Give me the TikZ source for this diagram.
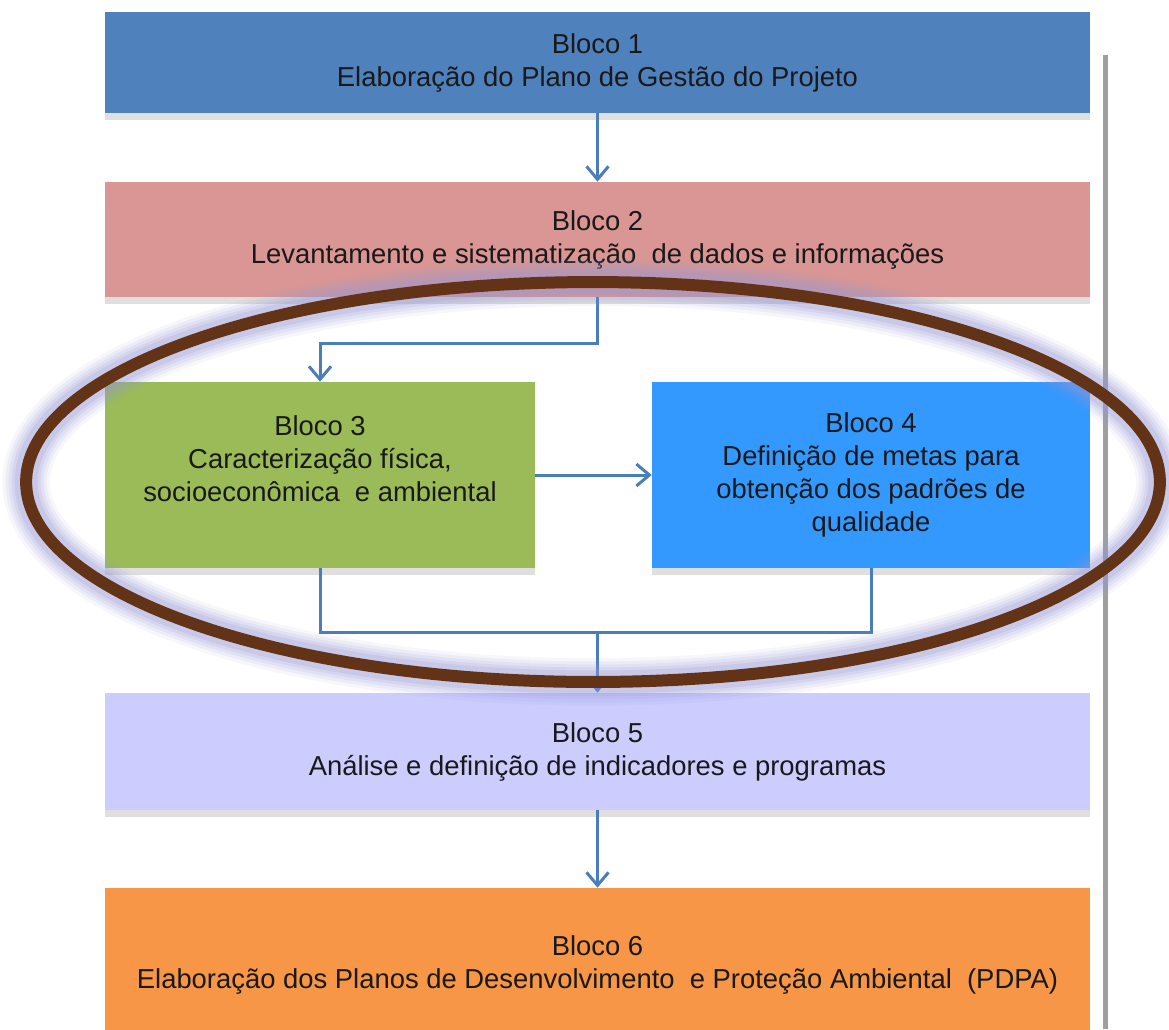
\documentclass[tikz,border=0pt]{standalone}
\usepackage{fontspec}
\setmainfont{Liberation Sans}
\usetikzlibrary{arrows.meta,shadows}
\definecolor{blocoone}{RGB}{79,129,189}
\definecolor{blocotwo}{RGB}{217,150,148}
\definecolor{blocothree}{RGB}{155,187,89}
\definecolor{blocofour}{RGB}{51,153,255}
\definecolor{blocofive}{RGB}{204,204,255}
\definecolor{blocosix}{RGB}{247,150,70}
\definecolor{flowblue}{RGB}{74,126,187}
\definecolor{ringbrown}{RGB}{99,51,23}
\definecolor{ringglow}{RGB}{150,150,215}

\begin{document}
\begin{tikzpicture}[x=0.02cm, y=-0.02cm,
    box/.style={rectangle, minimum width=19.7cm, align=center, inner sep=0pt,
        text=black!90, font=\fontsize{15.6}{18.8}\selectfont,
        drop shadow={shadow xshift=0cm, shadow yshift=-0.14cm, opacity=0.25}},
    halfbox/.style={box, minimum height=3.72cm},
    flow/.style={line width=0.06cm, draw=flowblue},
    arr/.style={flow, -{Straight Barb[length=0.26cm, width=0.44cm]}}]
    % Page
    \fill[white] (0,0) rectangle (1169,1029);
    \useasboundingbox (0,0) rectangle (1169,1029);

    % Frame line on the right
    \draw[line width=0.1cm, gray!75] (1105,55) -- (1105,1029);

    % Blocks
    \node[box, fill=blocoone, minimum height=2.02cm] (b1) at (597.5,62.5)
        {Bloco 1\\Elaboração do Plano de Gestão do Projeto};
    \node[box, fill=blocotwo, minimum height=2.3cm] (b2) at (597.5,239.5)
        {Bloco 2\\Levantamento e sistematização \ de dados e informações};
    \node[halfbox, fill=blocothree, minimum width=8.6cm] (b3) at (320,475)
        {Bloco 3\\Caracterização física,\\socioeconômica \ e ambiental\\\mbox{}};
    \node[halfbox, fill=blocofour, minimum width=8.76cm] (b4) at (871,475)
        {Bloco 4\\Definição de metas para\\obtenção dos padrões de\\qualidade};
    \node[box, fill=blocofive, minimum height=2.34cm] (b5) at (597.5,751.5)
        {Bloco 5\\Análise e definição de indicadores e programas};
    \node[box, fill=blocosix, minimum height=3.08cm] (b6) at (597.5,965)
        {Bloco 6\\Elaboração dos Planos de Desenvolvimento \ e Proteção Ambiental \ (PDPA)};

    % Connectors
    \coordinate (split) at (597.5,343);
    \coordinate (join) at (597.5,632);
    \draw[arr] (b1.south) -- (b2.north);
    \draw[arr] (b2.south) -- (split) -| (b3.north);
    \draw[arr] (b3.east) -- (b4.west);
    \draw[flow] (b3.south) |- (join) -| (b4.south);
    \draw[arr] (join) -- (b5.north);
    \draw[arr] (b5.south) -- (b6.north);

    % Ring round blocks 3 and 4
    \foreach \w/\o in {0.95/0.08, 0.82/0.1, 0.7/0.12, 0.58/0.15, 0.46/0.2}
        \draw[ringglow, line width=\w cm, opacity=\o] (593,482) ellipse [x radius=11.34cm, y radius=4.0cm];
    \draw[ringbrown, line width=0.24cm] (593,482) ellipse [x radius=11.34cm, y radius=4.0cm];
\end{tikzpicture}
\end{document}
